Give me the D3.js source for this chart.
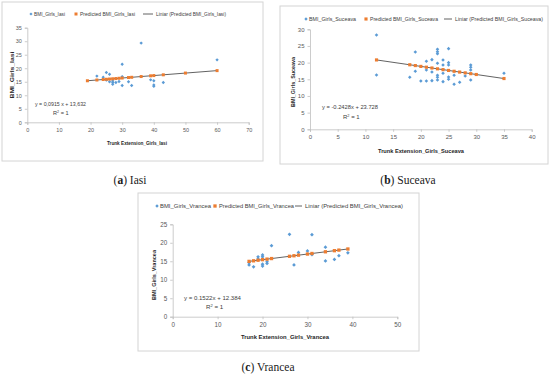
<!DOCTYPE html>
<html>
<head>
<meta charset="utf-8">
<script src="https://cdn.jsdelivr.net/npm/d3@7"></script>
<style>
  body { margin: 0; background: #fff; }
  svg { display: block; }
</style>
</head>
<body>
<div id="chart"></div>
<script>
// Iasi
const iasiObsX = [22, 25, 26, 24, 30, 26, 27, 27, 28, 30, 32, 33, 36, 30, 39, 40, 40, 40, 43, 60, 25, 27, 29];
const iasiObsY = [17.1, 18.4, 17.8, 16.7, 16.9, 15.0, 14.7, 14.1, 14.7, 13.6, 15.0, 13.6, 29.3, 21.5, 15.7, 15.4, 13.8, 13.3, 14.7, 23.1, 15.6, 15.3, 15.1];
const iasiPredX = [19, 22, 24, 25, 26, 27, 28, 29, 30, 32, 33, 36, 39, 40, 43, 50, 60];
const iasiPredY = [15.37, 15.65, 15.83, 15.92, 16.01, 16.10, 16.19, 16.29, 16.38, 16.56, 16.65, 16.93, 17.20, 17.29, 17.57, 18.21, 19.12];

// Suceava
const suceavaObsX = [12, 12, 18, 19, 19, 20, 21, 21, 21, 22, 22, 22, 23, 23, 23, 23, 23, 23, 23, 24, 24, 24, 24, 25, 25, 25, 25, 25, 26, 26, 27, 28, 29, 29, 29, 29, 35];
const suceavaObsY = [28.3, 16.3, 15.6, 23.2, 17.4, 14.5, 14.5, 17.8, 20.4, 14.6, 20.9, 17.2, 24.0, 23.3, 22.7, 19.8, 16.2, 15.6, 14.8, 20.8, 19.3, 16.8, 14.3, 24.2, 20.0, 19.3, 15.7, 15.0, 16.2, 13.5, 14.1, 16.0, 19.3, 18.6, 17.8, 14.8, 16.8];
const suceavaPredX = [12, 18, 19, 20, 21, 22, 23, 24, 25, 26, 27, 28, 29, 30, 35];
const suceavaPredY = [20.81, 19.36, 19.12, 18.87, 18.63, 18.39, 18.14, 17.90, 17.66, 17.41, 17.17, 16.93, 16.69, 16.44, 15.23];

// Vrancea
const vranceaObsX = [17, 17, 18, 19, 19, 20, 20, 20, 20, 21, 21, 22, 26, 27, 28, 30, 31, 31, 34, 34, 36, 37, 39];
const vranceaObsY = [14.0, 14.6, 13.5, 16.2, 15.6, 16.7, 16.2, 14.2, 13.7, 14.9, 14.4, 19.2, 22.3, 14.0, 17.4, 17.8, 22.2, 16.8, 18.8, 15.1, 15.5, 16.5, 17.3];
const vranceaPredX = [17, 18, 19, 20, 21, 22, 26, 27, 28, 30, 31, 34, 36, 37, 39];
const vranceaPredY = [14.97, 15.12, 15.28, 15.43, 15.58, 15.73, 16.34, 16.49, 16.65, 16.95, 17.10, 17.56, 17.86, 18.02, 18.32];

const blue = '#5b9bd5';
const orange = '#ed7d31';
const sansFont = "'Liberation Sans', Arial, sans-serif";
const serifFont = "'Liberation Serif', 'DejaVu Serif', serif";

const svg = d3.select('#chart').append('svg')
    .attr('width', 550)
    .attr('height', 374);

function fitText(g, x, y, str, size, len, opts = {}) {
    const t = g.append('text')
        .attr('x', x)
        .attr('y', y)
        .attr('font-family', sansFont)
        .attr('font-size', size)
        .attr('fill', opts.fill || '#404040')
        .attr('font-weight', opts.bold ? 'bold' : 'normal')
        .attr('text-anchor', opts.anchor || 'start')
        .attr('textLength', len)
        .attr('lengthAdjust', 'spacingAndGlyphs')
        .text(str);
    if (opts.rotate) t.attr('transform', `rotate(-90,${x},${y})`);
    return t;
}

function diamond(g, cx, cy, r, color) {
    g.append('path')
        .attr('d', `M${cx},${cy - r}L${cx + r},${cy}L${cx},${cy + r}L${cx - r},${cy}Z`)
        .attr('fill', color);
}

function drawPanel(p) {
    const g = svg.append('g');

    g.append('rect')
        .attr('x', p.frame[0]).attr('y', p.frame[1])
        .attr('width', p.frame[2] - p.frame[0]).attr('height', p.frame[3] - p.frame[1])
        .attr('fill', '#fff').attr('stroke', '#d4d4d4').attr('stroke-width', 1);

    const x = d3.scaleLinear().domain(p.xDomain).range(p.xRange);
    const y = d3.scaleLinear().domain(p.yDomain).range(p.yRange);

    const xAxis = g.append('g')
        .attr('transform', `translate(0,${p.yRange[0]})`)
        .call(d3.axisBottom(x).tickValues(p.xTicks).tickSize(2.5).tickPadding(3));
    const yAxis = g.append('g')
        .attr('transform', `translate(${p.xRange[0]},0)`)
        .call(d3.axisLeft(y).tickValues(p.yTicks).tickSize(2.5).tickPadding(3));
    [xAxis, yAxis].forEach(a => {
        a.selectAll('path, line').attr('stroke', '#bfbfbf').attr('stroke-width', 0.8);
        a.selectAll('text')
            .attr('fill', '#595959')
            .attr('font-family', sansFont)
            .attr('font-size', p.tickSize);
    });

    // observed points
    const obs = p.obsX.map((v, i) => [v, p.obsY[i]]);
    obs.forEach(d => diamond(g, x(d[0]), y(d[1]), p.mark * 0.85, blue));

    // trendline through predicted points
    const pred = p.predX.map((v, i) => [v, p.predY[i]]);
    g.append('path')
        .datum(pred)
        .attr('fill', 'none')
        .attr('stroke', '#3a3a3a')
        .attr('stroke-width', 0.8)
        .attr('d', d3.line().x(d => x(d[0])).y(d => y(d[1])));

    g.selectAll(null).data(pred).enter().append('rect')
        .attr('x', d => x(d[0]) - p.mark * 0.75)
        .attr('y', d => y(d[1]) - p.mark * 0.75)
        .attr('width', p.mark * 1.5)
        .attr('height', p.mark * 1.5)
        .attr('fill', orange);

    // legend
    const L = p.legend;
    diamond(g, L.blueX, L.y, p.mark * 0.8, blue);
    fitText(g, L.blueX + 3, L.y + 2, L.names[0], p.legSize, L.lens[0]);
    g.append('rect')
        .attr('x', L.orangeX - p.mark * 0.75).attr('y', L.y - p.mark * 0.75)
        .attr('width', p.mark * 1.5).attr('height', p.mark * 1.5)
        .attr('fill', orange);
    fitText(g, L.orangeX + 4, L.y + 2, L.names[1], p.legSize, L.lens[1]);
    g.append('line')
        .attr('x1', L.lineX[0]).attr('x2', L.lineX[1])
        .attr('y1', L.y).attr('y2', L.y)
        .attr('stroke', '#3a3a3a').attr('stroke-width', 0.8);
    fitText(g, L.lineX[1] + 3, L.y + 2, L.names[2], p.legSize, L.lens[2]);

    // axis titles
    fitText(g, p.xTitle.x, p.xTitle.y, p.xTitle.text, p.titleSize, p.xTitle.len,
        { bold: true, anchor: 'middle', fill: '#262626' });
    fitText(g, p.yTitle.x, p.yTitle.y, p.yTitle.text, p.titleSize, p.yTitle.len,
        { bold: true, anchor: 'middle', fill: '#262626', rotate: true });

    // equation
    fitText(g, p.eq.x, p.eq.y, p.eq.text, p.eqSize, p.eq.len, { fill: '#404040' });
    const r2 = g.append('text')
        .attr('x', p.eq.rx).attr('y', p.eq.ry)
        .attr('font-family', sansFont)
        .attr('font-size', p.eqSize)
        .attr('fill', '#404040');
    r2.append('tspan').text('R');
    r2.append('tspan').attr('font-size', p.eqSize * 0.65).attr('dy', -2.5).text('2');
    r2.append('tspan').attr('dy', 2.5).text(' = 1');

    // caption
    const cap = svg.append('text')
        .attr('x', p.caption.x).attr('y', p.caption.y)
        .attr('text-anchor', 'middle')
        .attr('font-family', serifFont)
        .attr('font-size', 11.5)
        .attr('fill', '#1a1a1a');
    cap.append('tspan').text('(');
    cap.append('tspan').attr('font-weight', 'bold').text(p.caption.letter);
    cap.append('tspan').text(') ' + p.caption.name);
}

drawPanel({
    frame: [2, 2, 263, 161],
    xDomain: [0, 70], xRange: [27.3, 248.7], xTicks: [0, 10, 20, 30, 40, 50, 60, 70],
    yDomain: [0, 35], yRange: [122.3, 27.7], yTicks: [0, 5, 10, 15, 20, 25, 30, 35],
    obsX: iasiObsX, obsY: iasiObsY, predX: iasiPredX, predY: iasiPredY,
    mark: 2, tickSize: 5.5, legSize: 5.2, titleSize: 5.6, eqSize: 5.6,
    legend: {
        y: 14, blueX: 31, orangeX: 76, lineX: [143, 153],
        names: ['BMI_Girls_Iasi', 'Predicted BMI_Girls_Iasi', 'Liniar (Predicted BMI_Girls_Iasi)'],
        lens: [31, 55, 70]
    },
    xTitle: { x: 137, y: 145, text: 'Trunk Extension_Girls_Iasi', len: 60 },
    yTitle: { x: 14, y: 75, text: 'BMI_Girls_Iasi', len: 47 },
    eq: { x: 35, y: 106, text: 'y = 0,0915 x + 13,632', len: 51, rx: 53, ry: 115 },
    caption: { x: 130, y: 184, letter: 'a', name: 'Iasi' }
});

drawPanel({
    frame: [280, 6, 548, 164],
    xDomain: [0, 40], xRange: [310, 531.7], xTicks: [0, 5, 10, 15, 20, 25, 30, 35, 40],
    yDomain: [0, 30], yRange: [129.3, 29.3], yTicks: [0, 5, 10, 15, 20, 25, 30],
    obsX: suceavaObsX, obsY: suceavaObsY, predX: suceavaPredX, predY: suceavaPredY,
    mark: 2.1, tickSize: 6, legSize: 5.4, titleSize: 5.8, eqSize: 6,
    legend: {
        y: 19, blueX: 306, orangeX: 366, lineX: [444, 452],
        names: ['BMI_Girls_Suceava', 'Predicted BMI_Girls_Suceava', 'Liniar (Predicted BMI_Girls_Suceava)'],
        lens: [47, 68, 88]
    },
    xTitle: { x: 421, y: 153, text: 'Trunk Extension_Girls_Suceava', len: 86 },
    yTitle: { x: 295, y: 82, text: 'BMI_Girls_Suceava', len: 50 },
    eq: { x: 322, y: 109, text: 'y = -0.2428x + 23.728', len: 56, rx: 343, ry: 119 },
    caption: { x: 408, y: 184, letter: 'b', name: 'Suceava' }
});

drawPanel({
    frame: [138, 193, 419, 351],
    xDomain: [0, 50], xRange: [172.7, 397.3], xTicks: [0, 10, 20, 30, 40, 50],
    yDomain: [0, 25], yRange: [316.7, 224.3], yTicks: [0, 5, 10, 15, 20, 25],
    obsX: vranceaObsX, obsY: vranceaObsY, predX: vranceaPredX, predY: vranceaPredY,
    mark: 2.2, tickSize: 6.3, legSize: 5.6, titleSize: 6, eqSize: 6.2,
    legend: {
        y: 206, blueX: 157, orangeX: 215, lineX: [295, 302],
        names: ['BMI_Girls_Vrancea', 'Predicted BMI_Girls_Vrancea', 'Liniar (Predicted BMI_Girls_Vrancea)'],
        lens: [51, 75, 98]
    },
    xTitle: { x: 285, y: 339, text: 'Trunk Extension_Girls_Vrancea', len: 88 },
    yTitle: { x: 156, y: 275, text: 'BMI_Girls_Vrancea', len: 50 },
    eq: { x: 184, y: 300, text: 'y = 0.1522x + 12.384', len: 57, rx: 206, ry: 309 },
    caption: { x: 268, y: 371, letter: 'c', name: 'Vrancea' }
});
</script>
</body>
</html>
